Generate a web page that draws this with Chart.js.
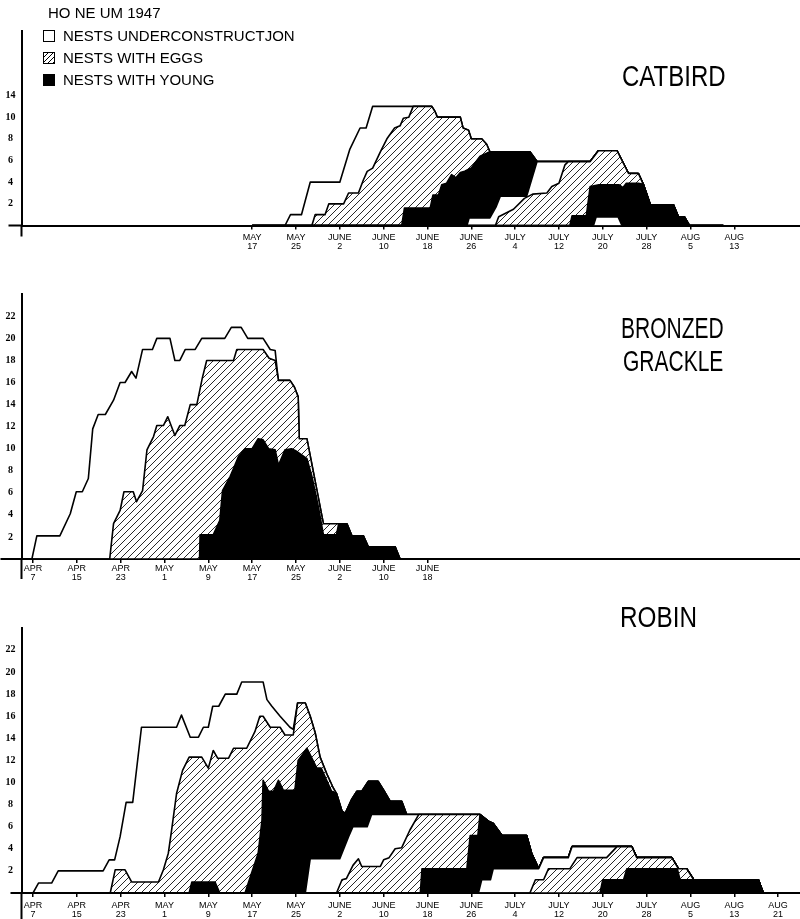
<!DOCTYPE html>
<html>
<head>
<meta charset="utf-8">
<script src="https://cdn.jsdelivr.net/npm/chart.js@4.4.1/dist/chart.umd.min.js"></script>
<style>
  html, body { margin: 0; background: #fff; }
  body { position: relative; width: 800px; height: 919px; overflow: hidden; font-family: "Liberation Sans", Arial, sans-serif; color: #000; }
  canvas { position: absolute; left: 0; }
  .txt { position: absolute; white-space: nowrap; font-size: 15px; line-height: 15px; z-index: 2; }
  .box { position: absolute; width: 10px; height: 10px; border: 1.5px solid #000; background: #fff; z-index: 2; }
  .title { position: absolute; white-space: nowrap; font-size: 30px; line-height: 30px; transform-origin: left top; z-index: 2; }
</style>
</head>
<body>
<div class="txt" style="left:48px;top:5px">HO NE UM 1947</div>
<div class="box" style="left:43px;top:30px"></div>
<div class="txt" style="left:63px;top:28px">NESTS UNDERCONSTRUCTJON</div>
<div class="box" style="left:43px;top:52px;background:repeating-linear-gradient(135deg,#fff 0 2.6px,#000 2.6px 3.4px)"></div>
<div class="txt" style="left:63px;top:50px">NESTS WITH EGGS</div>
<div class="box" style="left:43px;top:74px;background:#000"></div>
<div class="txt" style="left:63px;top:72px">NESTS WITH YOUNG</div>

<div class="title" style="left:622px;top:61px;transform:scaleX(0.8)">CATBIRD</div>
<div class="title" style="left:621px;top:313px;transform:scaleX(0.7)">BRONZED</div>
<div class="title" style="left:623px;top:346px;transform:scaleX(0.7)">GRACKLE</div>
<div class="title" style="left:620px;top:602px;transform:scaleX(0.81)">ROBIN</div>

<canvas id="catbird" width="800" height="256" style="top:0px"></canvas>
<canvas id="grackle" width="800" height="309" style="top:280px"></canvas>
<canvas id="robin" width="800" height="319" style="top:600px"></canvas>

<script>
// days counted from April 7; values = number of nests (line heights)

// ---- Catbird ----
const catbirdUnderConstruction = [[40,0],[46,0],[47,1],[49,1],[50.6,4],[56,4],[57.8,7],[59.7,9],[60.8,9],[62,11]];
const catbirdEggs = [[40,0],[50.9,0],[51.5,1],[53.3,1],[54,2],[56.7,2],[57.6,3],[59.4,3],[60.3,4.2],[61,5],[62,5.3],[63.4,6.8],[64.6,8],[66,9],[67,9.2],[67.6,9.9],[68.6,10],[69.4,11]];
const catbirdPeak = [[72.8,11],[73.4,10.5],[73.8,10],[78,10],[78.5,9],[79.5,8.8],[80,8],[81.9,8],[82.8,7.5]];
const catbirdYoung = [[40,0],[67.3,0],[67.8,1.6],[72.5,1.6],[73,2.8],[74,2.8],[74.6,3.75],[75.5,3.9],[76.4,4.7],[77.2,4.4],[78,4.9],[78.8,5],[80,5.3],[81.6,6.4],[82.5,6.6]];
const catbirdYoungEnd = [[83.4,6.8],[90.7,6.8],[92,5.9]];
const catbirdSecondConstruction = [[40,0],[79.2,0],[79.6,0.7],[83.4,0.7],[84.5,1.7],[85.3,2.7],[90.1,2.7],[92,5.9]];
const catbirdSecondEggs = [[40,0],[84.4,0],[85,0.8],[87.7,1.5],[89.7,2.5],[91.2,2.9],[93.8,3],[94.7,3.6],[96,3.9],[97.1,5.6],[97.7,5.9]];
const catbirdLate = [[101.7,5.9],[103.2,6.9],[106.6,6.9],[108.7,4.8],[110.5,4.8]];
const catbirdSecondYoung = [[40,0],[98,0],[98.4,0.9],[101,0.9],[101.7,3.6],[103.3,3.75],[107,3.75],[107.7,3.5],[108.3,3.9],[110.5,3.9]];
const catbirdYoungTail = [[111.4,3.8],[112.7,1.9],[116.9,1.9],[117.8,0.8],[118.9,0.8],[119.8,0],[126,0]];
const catbirdThirdConstruction = [[40,0],[102.3,0],[102.8,0.8],[106.8,0.8],[107.5,0],[126,0]];

const catbirdTickDays = [40,48,56,64,72,80,88,96,104,112,120,128];
const catbirdTickLabels = ['MAY 17','MAY 25','JUNE 2','JUNE 10','JUNE 18','JUNE 26','JULY 4','JULY 12','JULY 20','JULY 28','AUG 5','AUG 13'];
const catbirdYTicks = [2,4,6,8,10,12];
const catbirdYLabels = ['2','4','6','8','10','14'];

// ---- Bronzed grackle ----
const grackleUnderConstruction = [[-2,0],[-0.2,0],[0.7,2.1],[4.9,2.1],[6.8,4.1],[7.9,6.1],[9,6.1],[10.1,7.3],[10.9,11.8],[11.9,13.1],[13.2,13.1],[14.7,14.4],[15.9,16],[16.8,16],[18,17],[18.8,16.4],[20,19],[21.8,19],[22.6,20],[25,20],[25.9,18],[26.8,18],[27.8,19],[29.6,19],[30.8,20],[35,20],[36.2,21],[38,21],[39.2,20],[42,20],[43.3,19],[44.2,18.9],[44.6,17]];
const grackleEggs = [[-2,0],[14,0],[14.7,3.2],[15.9,4.4],[16.6,6.1],[18.3,6.1],[18.9,5.2],[20,6.2],[20.8,9.9],[22,11.1],[22.6,12.1],[23.8,12.1],[24.6,12.9],[25.9,11.2],[26.8,12.1],[27.7,12.1],[28.7,14],[29.9,14],[30.9,16.4],[31.7,18],[36.6,18],[37.2,19],[42,19],[43.1,18.2],[44.2,18]];
const grackleFall = [[44.8,16.2],[46.9,16.2],[47.7,15.6],[48.4,14.7],[48.6,10.9],[50,10.9],[53,3.2]];
const grackleYoung = [[-2,0],[30.4,0],[30.5,2.2],[32.9,2.2],[34.1,3.5],[34.6,6.2],[36,7.5],[36.6,8.2],[37.5,9.3],[38.7,10],[40,10],[41.1,10.9],[42,10.8],[43,10],[44.2,9.9],[44.8,8.5],[46,9.9],[47.2,10],[48,9.8],[50,9.1],[50.9,7.5],[52.1,4.7],[53,2.2],[55.4,2.2],[55.8,3.2]];
const grackleTail = [[57.3,3.2],[58.2,2.1],[60.3,2.1],[61.2,1.1],[66.1,1.1],[67,0],[74,0]];

const grackleTickDays = [0,8,16,24,32,40,48,56,64,72];
const grackleTickLabels = ['APR 7','APR 15','APR 23','MAY 1','MAY 9','MAY 17','MAY 25','JUNE 2','JUNE 10','JUNE 18'];
const countYTicks = [2,4,6,8,10,12,14,16,18,20,22];
const countYLabels = ['2','4','6','8','10','12','14','16','18','20','22'];

// ---- Robin ----
const robinUnderConstruction = [[-2,0],[0,0],[1,0.9],[3.4,0.9],[4.6,2],[12.8,2],[13.9,3],[14.9,3],[15.9,5.1],[17,8.2],[18.2,8.2],[19.8,15],[26.2,15],[27.1,16.1],[28.7,14.1],[30.2,14.1],[31.1,15],[32,15],[32.8,16.9],[33.9,16.9],[35.1,18],[37.2,18],[38.1,19.1],[42,19.1],[42.7,17.5],[43.6,16.9],[45.1,16],[46,15.5],[46.9,15],[47.5,14.8]];
const robinEggs = [[-2,0],[14.1,0],[15,2.1],[16.8,2.1],[18,1],[22.9,1],[23.8,2.1],[24.7,3.6],[25.3,5.7],[26.2,9],[27.3,11.1],[28.5,12.3],[30.8,12.3],[32,11.3],[32.9,12.9],[33.7,12.2],[35.7,12.2],[36.6,13.1],[39,13.1],[40.5,14.6],[41.4,16],[42,16],[43.3,15],[45.1,15],[46,14.3],[47.5,14.3]];
const robinPeak = [[48.3,17.2],[49.7,17.2],[50.6,16],[51.5,14.5],[52.4,12.3],[53.6,10.8],[54.8,9.5]];
const robinYoung = [[-2,0],[28.5,0],[29,1],[33.2,1],[34.1,0],[38.7,0],[39.9,1.8],[41.1,3.6],[41.8,6.6],[42,10.2],[43,9.2],[43.9,9.2],[44.8,10.2],[45.7,9.3],[47.8,9.3],[48.4,12],[50,13.1],[50.6,12.5],[51.8,11.3],[52.6,11.3],[53.6,10.2],[54.5,9.2]];
const robinYoungEnd = [[55.4,9],[56.4,7.4],[57,7.2],[58.2,8.5],[59.1,9.2],[60,9.2],[61.2,10.1],[63,10.1],[64,9.3],[65.2,8.3],[67.3,8.3],[68.2,7.1]];
const robinSecondConstruction = [[-2,0],[49.7,0],[50.6,3.1],[56,3.1],[57.6,5.1],[58.4,6],[61,6],[61.8,7.1]];
const robinSecondEggs = [[-2,0],[55.4,0],[56.4,1.2],[57.2,1.3],[58.4,2.5],[59.4,3.1],[60,2.4],[63.4,2.4],[64,3],[65,3.2],[66.1,4],[67.3,4.1],[68.8,5.7],[70.4,7.1]];
const robinSecondYoung = [[-2,0],[70.7,0],[71,2.2],[79.2,2.2],[79.8,5.2],[81.2,5.2]];
const robinSecondTail = [[81.6,7.1],[83.1,6.5],[84,6.3],[85.6,5.2],[90.1,5.2],[91,3.6]];
const robinThirdConstruction = [[-2,0],[81.3,0],[81.9,1.2],[83.5,1.2],[84,2.2]];
const robinThirdTail = [[92.3,2.2],[93.2,3.2],[97.7,3.2],[98.4,4.2],[109.3,4.2],[110.2,3.2],[116.6,3.2],[117.8,2.2],[119.3,2.2],[120.6,1.2],[132.4,1.2],[133.3,0],[138,0]];
const robinThirdEggs = [[-2,0],[90.7,0],[91.7,1.2],[93.2,1.2],[94.1,2.2],[98,2.2],[99.3,3.2],[104.7,3.2],[106.6,4.2],[109.3,4.2],[110.2,3.2],[116.6,3.2],[117.8,2.2],[119.3,2.2],[120.6,1.2],[132.4,1.2],[133.3,0],[138,0]];
const robinThirdYoung = [[-2,0],[103.5,0],[104,1.2],[107.8,1.2],[108.4,2.2],[117.6,2.2],[118.1,1.2],[132.4,1.2],[133.3,0],[138,0]];

const robinTickDays = [0,8,16,24,32,40,48,56,64,72,80,88,96,104,112,120,128,136];
const robinTickLabels = ['APR 7','APR 15','APR 23','MAY 1','MAY 9','MAY 17','MAY 25','JUNE 2','JUNE 10','JUNE 18','JUNE 26','JULY 4','JULY 12','JULY 20','JULY 28','AUG 5','AUG 13','AUG 21'];

function pts(...parts) {
  return [].concat(...parts).map(([x, y]) => ({ x: x, y: y }));
}

function hatch(ctx) {
  const c = document.createElement('canvas');
  c.width = 7; c.height = 7;
  const g = c.getContext('2d');
  g.fillStyle = '#fff';
  g.fillRect(0, 0, 7, 7);
  g.strokeStyle = '#111';
  g.lineWidth = 0.9;
  g.beginPath();
  g.moveTo(-1, 8); g.lineTo(8, -1);
  g.moveTo(-1, 1); g.lineTo(1, -1);
  g.moveTo(6, 8); g.lineTo(8, 6);
  g.stroke();
  return ctx.createPattern(c, 'repeat');
}

// short stubs of the axes past the crossing point
const axisTails = {
  id: 'axisTails',
  afterDraw(chart, args, opts) {
    const { ctx, chartArea: a } = chart;
    ctx.save();
    ctx.strokeStyle = '#000';
    ctx.lineWidth = 2;
    ctx.beginPath();
    ctx.moveTo(a.left - opts.left, a.bottom);
    ctx.lineTo(a.left, a.bottom);
    ctx.moveTo(a.left, a.bottom);
    ctx.lineTo(a.left, a.bottom + opts.down);
    ctx.stroke();
    ctx.restore();
  }
};

function drawPanel(id, bounds, fills, cfg) {
  const canvas = document.getElementById(id);
  const pattern = hatch(canvas.getContext('2d'));
  const names = { '#000': 'Nests with young', hatch: 'Nests with eggs', '#fff': 'Nests under construction' };

  return new Chart(canvas, {
    type: 'line',
    data: {
      datasets: bounds.map((b, i) => ({
        label: names[fills[i]],
        data: b,
        fill: i === 0 ? 'origin' : '-1',
        backgroundColor: fills[i] === 'hatch' ? pattern : fills[i],
        borderColor: '#000',
        borderWidth: 1.6,
        borderJoinStyle: 'round',
        pointRadius: 0,
        tension: 0
      }))
    },
    options: {
      responsive: false,
      animation: false,
      layout: { autoPadding: false, padding: { top: cfg.top, left: 0, right: 0, bottom: 0 } },
      plugins: {
        legend: { display: false },
        tooltip: { enabled: false },
        axisTails: { left: cfg.tailLeft, down: cfg.tailDown }
      },
      scales: {
        x: {
          type: 'linear',
          min: -2.1,
          max: 140,
          grid: { display: true, drawOnChartArea: false, drawTicks: true, tickLength: 4, color: '#000', lineWidth: 1.5 },
          border: { display: true, color: '#000', width: 2 },
          ticks: {
            autoSkip: false,
            maxRotation: 0,
            padding: cfg.labelPad,
            color: '#000',
            font: { family: 'Liberation Sans', size: 9, lineHeight: 1 },
            callback: (v, i) => cfg.xLabels[i].split(' ')
          },
          afterBuildTicks: s => { s.ticks = cfg.xDays.map(v => ({ value: v })); },
          afterFit: s => { s.height = cfg.xAxisHeight; s.paddingLeft = 0; s.paddingRight = 0; }
        },
        y: {
          min: 0,
          max: cfg.yMax,
          grid: { display: false, drawTicks: false },
          border: { display: true, color: '#000', width: 2 },
          ticks: {
            crossAlign: 'center',
            padding: 6,
            color: '#000',
            font: { family: 'Liberation Serif', size: 10, weight: 'bold' },
            callback: (v, i) => cfg.yLabels[i]
          },
          afterBuildTicks: s => { s.ticks = cfg.yTicks.map(v => ({ value: v })); },
          afterFit: s => { s.width = 21.5; s.paddingTop = 0; s.paddingBottom = 0; }
        }
      }
    },
    plugins: [axisTails]
  });
}

drawPanel('catbird', [
  pts(catbirdThirdConstruction),
  pts(catbirdSecondYoung, catbirdYoungTail),
  pts(catbirdSecondEggs, catbirdLate, catbirdYoungTail),
  pts(catbirdSecondConstruction, catbirdLate, catbirdYoungTail),
  pts(catbirdYoung, catbirdYoungEnd, catbirdLate, catbirdYoungTail),
  pts(catbirdEggs, catbirdPeak, catbirdYoungEnd, catbirdLate, catbirdYoungTail),
  pts(catbirdUnderConstruction, catbirdPeak, catbirdYoungEnd, catbirdLate, catbirdYoungTail)
], ['#fff', '#000', 'hatch', '#fff', '#000', 'hatch', '#fff'], {
  top: 30.5, yMax: 18, xAxisHeight: 30.5, labelPad: 4, tailLeft: 13, tailDown: 11,
  yTicks: catbirdYTicks, yLabels: catbirdYLabels, xDays: catbirdTickDays, xLabels: catbirdTickLabels
});

drawPanel('grackle', [
  pts(grackleYoung, grackleTail),
  pts(grackleEggs, grackleFall, grackleTail),
  pts(grackleUnderConstruction, grackleFall, grackleTail)
], ['#000', 'hatch', '#fff'], {
  top: 14.3, yMax: 24, xAxisHeight: 30, labelPad: 1, tailLeft: 21, tailDown: 20,
  yTicks: countYTicks, yLabels: countYLabels, xDays: grackleTickDays, xLabels: grackleTickLabels
});

drawPanel('robin', [
  pts(robinThirdYoung),
  pts(robinThirdEggs),
  pts(robinThirdConstruction, robinThirdTail),
  pts(robinSecondYoung, robinSecondTail, robinThirdTail),
  pts(robinSecondEggs, robinSecondTail, robinThirdTail),
  pts(robinSecondConstruction, robinSecondTail, robinThirdTail),
  pts(robinYoung, robinYoungEnd, robinSecondTail, robinThirdTail),
  pts(robinEggs, robinPeak, robinYoungEnd, robinSecondTail, robinThirdTail),
  pts(robinUnderConstruction, robinPeak, robinYoungEnd, robinSecondTail, robinThirdTail)
], ['#000', 'hatch', '#fff', '#000', 'hatch', '#fff', '#000', 'hatch', '#fff'], {
  top: 27.8, yMax: 24, xAxisHeight: 26, labelPad: 4, tailLeft: 11, tailDown: 26,
  yTicks: countYTicks, yLabels: countYLabels, xDays: robinTickDays, xLabels: robinTickLabels
});
</script>
</body>
</html>
